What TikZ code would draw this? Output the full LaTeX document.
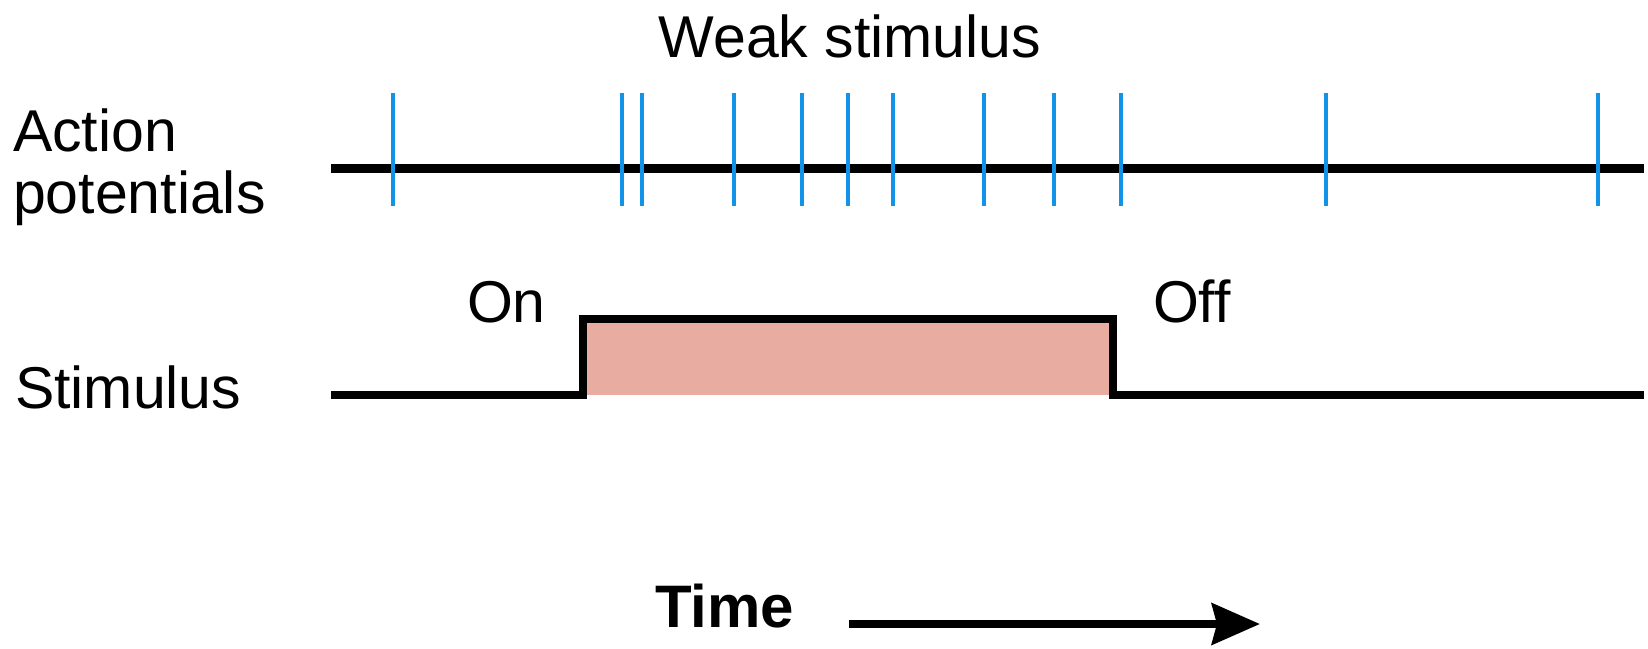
\documentclass[tikz,border=0pt]{standalone}
\usepackage{fontspec}
\setmainfont{Liberation Sans}
\usetikzlibrary{arrows.meta}
\definecolor{spikeblue}{RGB}{18,146,232}
\definecolor{stimpink}{RGB}{233,172,160}
\tikzset{
  lbl/.style={inner sep=0pt, outer sep=0pt, font=\fontsize{59}{62}\selectfont, text=black},
  trace/.style={line width=8.5pt, black, line join=miter},
  spike/.style={line width=4.5pt, spikeblue},
}
\begin{document}
\begin{tikzpicture}[x=1pt,y=-1pt]
\useasboundingbox[fill=white] (0,0) rectangle (1648,648);
% titles and labels
\node[lbl, anchor=base] (title) at (850,57) {Weak stimulus};
\node[lbl, anchor=base west] (ap1) at (13,151) {Action};
\node[lbl, anchor=base west] (ap2) at (13,213) {potentials};
\node[lbl, anchor=base west] (stim) at (15,408) {Stimulus};
\node[lbl, anchor=base west] (on) at (467,322) {On};
\node[lbl, anchor=base west] (off) at (1153,322) {Off};
\node[lbl, anchor=base west, font=\fontsize{60}{64}\selectfont\bfseries] (time) at (655,627) {Time};
% action potential trace
\coordinate (apL) at (331,168.5);
\coordinate (apR) at (1644,168.5);
\draw[trace] (apL) -- (apR);
\foreach \x in {393,622,642,734,802,848,893,984,1054,1121,1326,1598}{
  \draw[spike] (\x,93) -- (\x,206);
}
% stimulus trace
\coordinate (sL) at (331,395);
\coordinate (sUp0) at (583,395);
\coordinate (sUp1) at (583,319);
\coordinate (sDn1) at (1113,319);
\coordinate (sDn0) at (1113,395);
\coordinate (sR) at (1644,395);
\fill[stimpink] (sUp0) rectangle (sDn1);
\draw[trace] (sL) -- (sUp0) -- (sUp1) -- (sDn1) -- (sDn0) -- (sR);
% time arrow
\coordinate (tA) at (849,624);
\coordinate (tB) at (1260,624);
\draw[line width=8.5pt, -{Stealth[length=48pt,width=41pt,inset=5pt]}] (tA) -- (tB);
\end{tikzpicture}
\end{document}
